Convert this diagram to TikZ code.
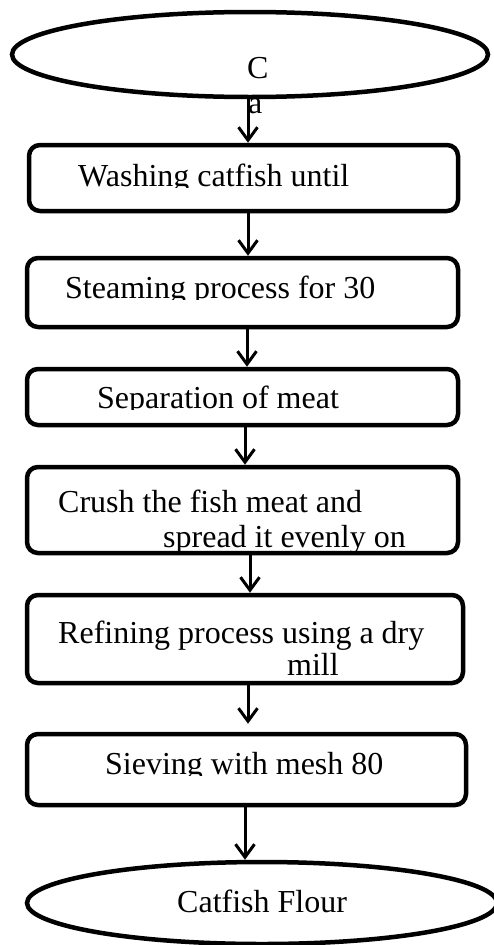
\documentclass[tikz,border=0pt]{standalone}
\usepackage{fontspec}
\setmainfont{Liberation Serif}
\usetikzlibrary{arrows.meta,shapes.geometric}
\tikzset{
  stepbox/.style={draw, line width=4.5pt, rounded corners=11pt, inner sep=0pt},
  endpoint/.style={draw, ellipse, line width=4.5pt, inner sep=0pt},
  flow/.style={-{Straight Barb[length=13pt,width=19pt]}, line width=3pt},
  txt/.style={anchor=base west, inner sep=0pt, font=\fontsize{32}{36}\selectfont}
}
% name, x, baseline, cut, text
\newcommand{\cuttext}[5]{%
  \begin{scope}
    \clip (0,0) rectangle (493,#4);
    \node[txt] (#1) at (#2,#3) {#5};
  \end{scope}}

\begin{document}
\begin{tikzpicture}[x=1pt,y=-1pt]
  \useasboundingbox (0,0) rectangle (493,945);
  % terminals
  \node[endpoint, minimum width=476pt, minimum height=85pt] (start) at (250,54.5) {};
  \node[endpoint, minimum width=470pt, minimum height=82pt] (flour) at (262,903) {};
  % process steps
  \node[stepbox, minimum width=429pt, minimum height=66pt] (wash)   at (243.5,178) {};
  \node[stepbox, minimum width=431pt, minimum height=69pt] (steam)  at (242.5,292.5) {};
  \node[stepbox, minimum width=431pt, minimum height=56pt] (sep)    at (242.5,397) {};
  \node[stepbox, minimum width=431pt, minimum height=86pt] (crush)  at (242.5,510) {};
  \node[stepbox, minimum width=436pt, minimum height=88pt] (refine) at (245,639) {};
  \node[stepbox, minimum width=439pt, minimum height=71pt] (sieve)  at (246.5,769.5) {};
  % texts
  \node[txt] (tC) at (247,78) {C};
  \node[txt] (ta) at (248,113) {a};
  \cuttext{twash}{78}{186}{187}{Washing catfish until}
  \cuttext{tsteam}{65}{298}{299}{Steaming process for 30}
  \cuttext{tsep}{97}{408}{409}{Separation of meat}
  \node[txt] (tcrush) at (58,512) {Crush the fish meat and};
  \cuttext{tspread}{163}{547}{550}{spread it evenly on}
  \node[txt] (trefine) at (58,643) {Refining process using a dry};
  \node[txt] (tmill) at (287,675) {mill};
  \cuttext{tsieve}{105}{774}{775}{Sieving with mesh 80}
  \node[txt] (tflour) at (177,912) {Catfish Flour};
  % connectors
  \draw[flow] ([xshift=-2pt]start.south) -- ([xshift=4.5pt]wash.north);
  \draw[flow] ([xshift=4.5pt]wash.south) -- ([xshift=5.5pt]steam.north);
  \draw[flow] ([xshift=4.5pt]steam.south) -- ([xshift=4.5pt]sep.north);
  \draw[flow] ([xshift=2.5pt]sep.south) -- ([xshift=2.5pt]crush.north);
  \draw[flow] ([xshift=7.5pt]crush.south) -- ([xshift=5pt]refine.north);
  \draw[flow, shorten >=8pt] ([xshift=3pt]refine.south) -- ([xshift=1.5pt]sieve.north);
  \draw[flow] ([xshift=-1.5pt]sieve.south) -- ([xshift=-17pt]flour.north);
\end{tikzpicture}
\end{document}
